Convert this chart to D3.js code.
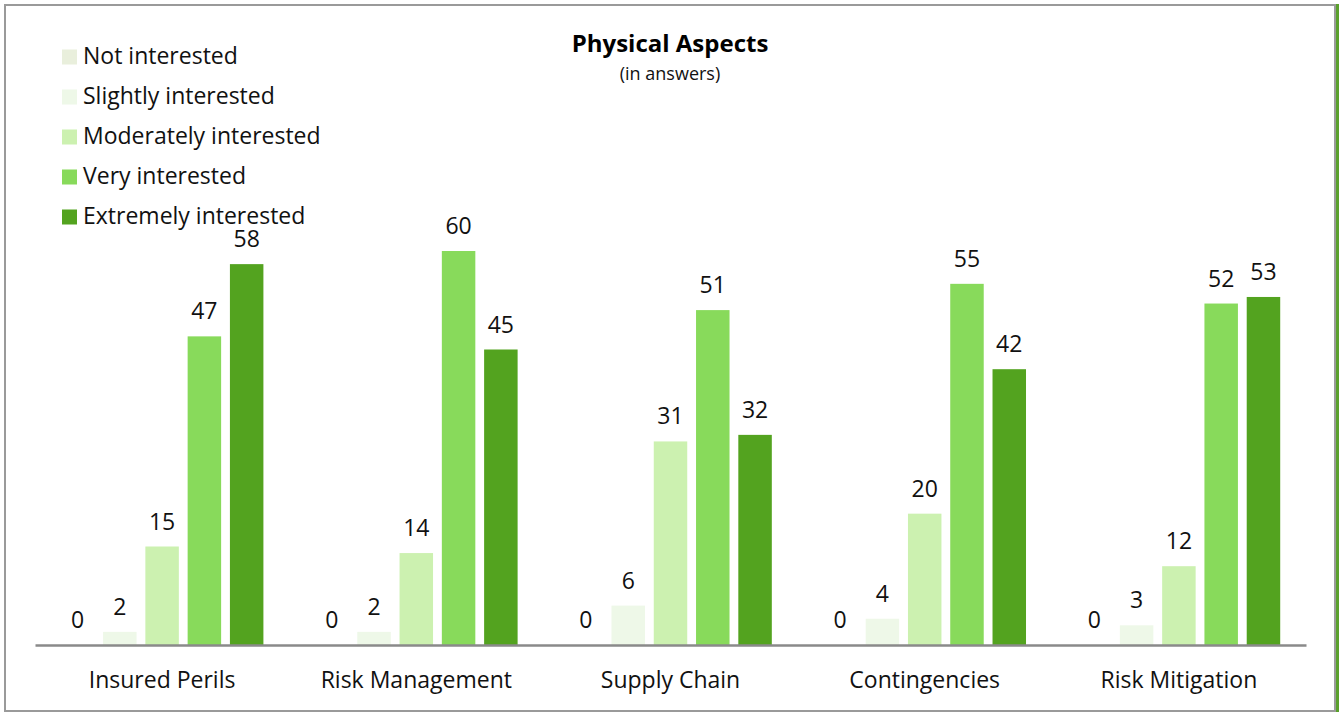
<!DOCTYPE html>
<html>
<head>
<meta charset="utf-8">
<script src="https://cdn.jsdelivr.net/npm/d3@7/dist/d3.min.js"></script>
<style>
  html, body { margin: 0; padding: 0; background: #fff; }
  svg { display: block; font-family: "Open Sans", Lato, sans-serif; }
</style>
</head>
<body>
<svg id="chart" width="1343" height="713"></svg>
<script>
// Survey answers per topic
const categories = ["Insured Perils", "Risk Management", "Supply Chain", "Contingencies", "Risk Mitigation"];
const levels = ["Not interested", "Slightly interested", "Moderately interested", "Very interested", "Extremely interested"];
const notInterested = [0, 0, 0, 0, 0];
const slightlyInterested = [2, 2, 6, 4, 3];
const moderatelyInterested = [15, 14, 31, 20, 12];
const veryInterested = [47, 60, 51, 55, 52];
const extremelyInterested = [58, 45, 32, 42, 53];
const levelColors = ["#E9EFDC", "#EEF8E8", "#CCF1B0", "#88DA5B", "#53A31F"];

const seriesValues = [notInterested, slightlyInterested, moderatelyInterested, veryInterested, extremelyInterested];
const rows = categories.map((c, i) => ({
  category: c,
  values: levels.map((l, j) => ({ level: l, value: seriesValues[j][i] }))
}));

const FONT = "'Open Sans', Lato, sans-serif";
const svg = d3.select("#chart");

// Frame
svg.append("rect").attr("x", 5).attr("y", 5).attr("width", 1330).attr("height", 706)
  .attr("fill", "none").attr("stroke", "#9a9a9a").attr("stroke-width", 2);
svg.append("line").attr("x1", 1337.5).attr("x2", 1337.5).attr("y1", 4).attr("y2", 712)
  .attr("stroke", "#5aa02c").attr("stroke-width", 3);

const x0 = d3.scaleBand().domain(categories).range([35, 1306]).padding(0);
const x1 = d3.scaleBand().domain(levels).range([0, x0.bandwidth()])
  .paddingInner(0.208).paddingOuter(0.61);
const y = d3.scaleLinear().domain([0, 60]).range([645, 251]);
const color = d3.scaleOrdinal().domain(levels).range(levelColors);

// Bars
const groups = svg.append("g").selectAll("g").data(rows).join("g")
  .attr("transform", d => `translate(${x0(d.category)},0)`);

groups.selectAll("rect").data(d => d.values).join("rect")
  .attr("x", d => x1(d.level))
  .attr("y", d => y(d.value))
  .attr("width", x1.bandwidth())
  .attr("height", d => y(0) - y(d.value))
  .attr("fill", d => color(d.level));

groups.selectAll("text").data(d => d.values).join("text")
  .attr("x", d => x1(d.level) + x1.bandwidth() / 2)
  .attr("y", d => y(d.value) - 17)
  .attr("text-anchor", "middle")
  .attr("font-size", 23)
  .attr("fill", "#111")
  .text(d => d.value);

// Category axis
const xAxis = svg.append("g").attr("transform", `translate(0,${y(0)})`)
  .call(d3.axisBottom(x0).tickSize(0).tickPadding(27));
xAxis.select(".domain").attr("stroke", "#8a8a8a").attr("stroke-width", 2.5);
xAxis.selectAll(".tick text").attr("font-size", 23).attr("fill", "#111")
  .attr("font-family", FONT);

// Title
svg.append("text").attr("x", 670).attr("y", 52).attr("text-anchor", "middle")
  .attr("font-size", 24).attr("font-weight", "bold").attr("fill", "#000")
  .text("Physical Aspects");
svg.append("text").attr("x", 670).attr("y", 80).attr("text-anchor", "middle")
  .attr("font-size", 18).attr("fill", "#111")
  .text("(in answers)");

// Legend
const legend = svg.append("g").selectAll("g").data(levels).join("g")
  .attr("transform", (d, i) => `translate(62,${64 + i * 40})`);
legend.append("rect").attr("x", 0).attr("y", -14.5).attr("width", 15).attr("height", 15)
  .attr("fill", d => color(d));
legend.append("text").attr("x", 21).attr("y", 0)
  .attr("font-size", 23).attr("fill", "#111").text(d => d);
</script>
</body>
</html>
